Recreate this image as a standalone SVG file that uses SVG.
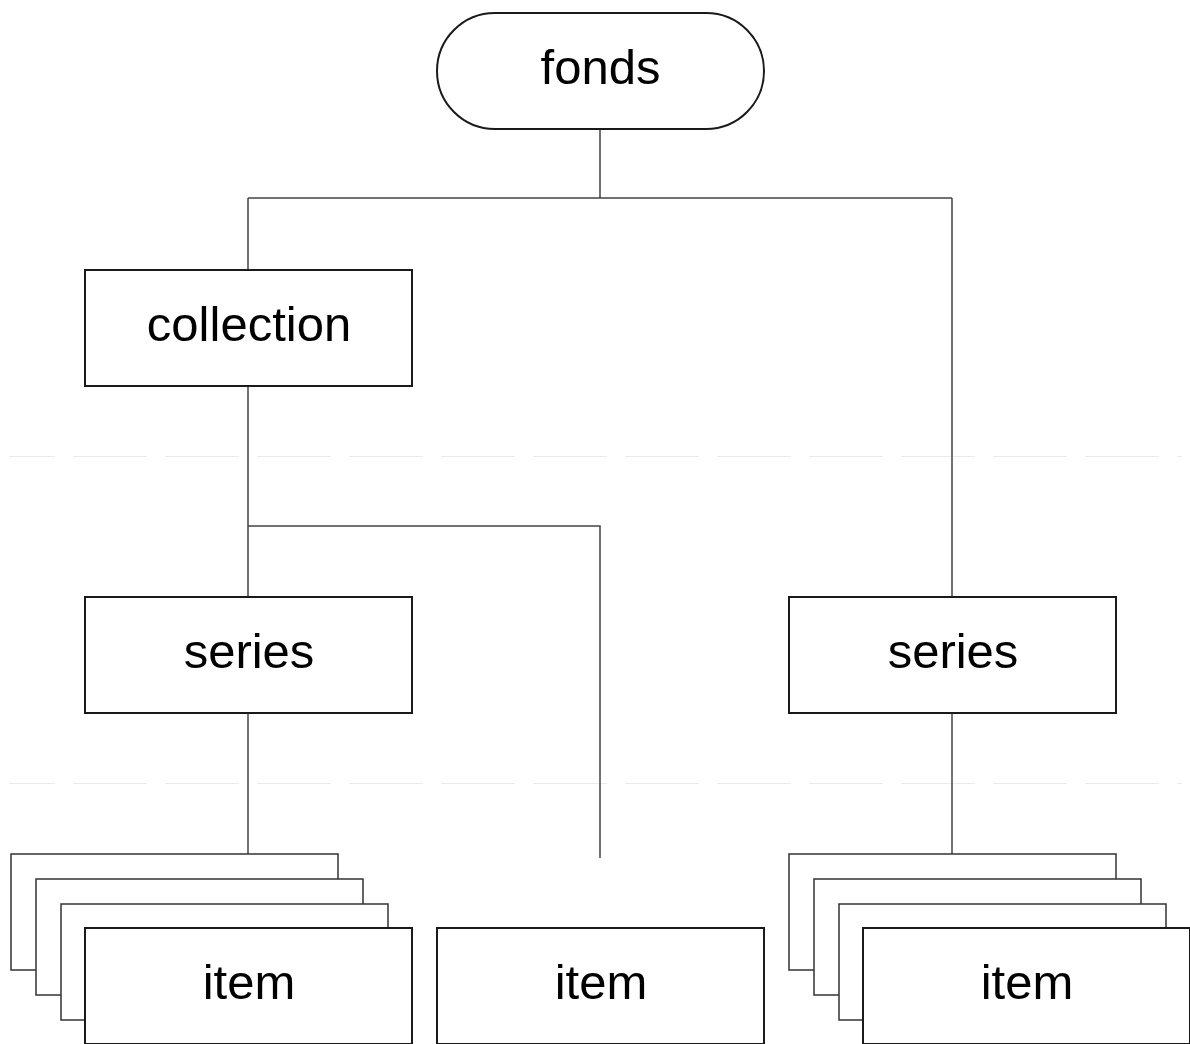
<svg xmlns="http://www.w3.org/2000/svg" width="1190" height="1044" viewBox="0 0 1190 1044">
  <style>
    .box { fill: #fff; stroke: #1a1a1a; stroke-width: 2; }
    .back { fill: #fff; stroke: #333; stroke-width: 1.5; }
    .wire { fill: none; stroke: #444; stroke-width: 1.5; }
    .guide { fill: none; stroke: #ebebeb; stroke-width: 1; stroke-dasharray: 74 18; stroke-dashoffset: 28; }
    .label { font-family: "Liberation Sans", Arial, sans-serif; font-size: 49px; fill: #000; text-anchor: middle; }
  </style>
  <rect width="1190" height="1044" fill="#fff"/>

  <!-- faint level guides -->
  <g id="guides">
    <line class="guide" x1="9" y1="456.5" x2="1182" y2="456.5"/>
    <line class="guide" x1="9" y1="783.5" x2="1182" y2="783.5"/>
  </g>

  <!-- connectors -->
  <g id="connectors">
    <path class="wire" d="M600 129 V198 M248 198 H952 M248 198 V270 M952 198 V597"/>
    <path class="wire" d="M248 386 V597 M248 526 H600 V858"/>
    <path class="wire" d="M248 713 V855"/>
    <path class="wire" d="M952 713 V855"/>
  </g>

  <g id="fonds">
    <rect class="box" x="437" y="13" width="327" height="116" rx="58" ry="58"/>
    <text class="label" x="600.5" y="84">fonds</text>
  </g>

  <g id="collection">
    <rect class="box" x="85" y="270" width="327" height="116"/>
    <text class="label" x="249" y="341">collection</text>
  </g>

  <g id="series-left">
    <rect class="box" x="85" y="597" width="327" height="116"/>
    <text class="label" x="249" y="668">series</text>
  </g>

  <g id="series-right">
    <rect class="box" x="789" y="597" width="327" height="116"/>
    <text class="label" x="953" y="668">series</text>
  </g>

  <g id="items-left">
    <rect class="back" x="11" y="854" width="327" height="116"/>
    <rect class="back" x="36" y="879" width="327" height="116"/>
    <rect class="back" x="61" y="904" width="327" height="116"/>
    <rect class="box" x="85" y="928" width="327" height="116"/>
    <text class="label" x="249" y="999">item</text>
  </g>

  <g id="item-middle">
    <rect class="box" x="437" y="928" width="327" height="116"/>
    <text class="label" x="601" y="999">item</text>
  </g>

  <g id="items-right">
    <rect class="back" x="789" y="854" width="327" height="116"/>
    <rect class="back" x="814" y="879" width="327" height="116"/>
    <rect class="back" x="839" y="904" width="327" height="116"/>
    <rect class="box" x="863" y="928" width="327" height="116"/>
    <text class="label" x="1027" y="999">item</text>
  </g>
</svg>
